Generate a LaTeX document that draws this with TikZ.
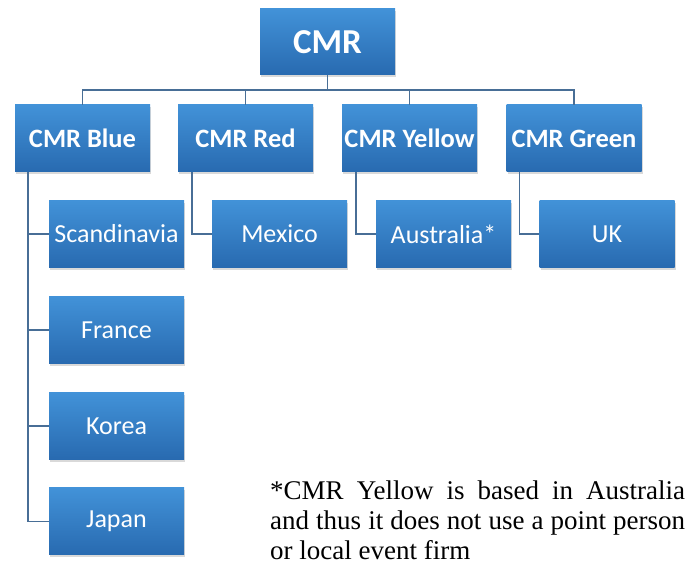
\documentclass[tikz,border=0pt]{standalone}
\usepackage{fontspec}
\setmainfont{Liberation Serif}
\setsansfont{Carlito}
\usepackage{tikz}
\usetikzlibrary{shapes,positioning,calc,shadows}
\definecolor{boxtop}{RGB}{66,146,216}
\definecolor{boxbot}{RGB}{40,106,176}
\definecolor{linecol}{RGB}{72,110,150}

\begin{document}
\begin{tikzpicture}[
    x=1pt, y=1pt,
    unitbox/.style={rectangle, top color=boxtop, bottom color=boxbot, text=white, font=\sffamily\fontsize{26}{30}\selectfont, minimum width=135pt, minimum height=67pt, inner sep=1pt, drop shadow={opacity=0.3, shadow xshift=1pt, shadow yshift=-2.5pt}},
    teambox/.style={unitbox, font=\sffamily\bfseries\fontsize{26.5}{30}\selectfont},
    topbox/.style={unitbox, font=\sffamily\bfseries\fontsize{35}{38}\selectfont, minimum height=66pt},
    conn/.style={draw=linecol, line width=1.5pt}
]
\useasboundingbox (0,0) rectangle (688,562);

% Head office
\node[topbox] (cmr) at (327.5,520) {CMR};

% Teams
\node[teambox] (blue) at (82.5,423.5) {CMR Blue};
\node[teambox] (red) at (245.5,423.5) {CMR Red};
\node[teambox] (yellow) at (409.5,423.5) {CMR Yellow};
\node[teambox] (green) at (574,423.5) {CMR Green};

% Countries
\node[unitbox] (scand) at (116.5,328) {Scandinavia};
\node[unitbox] (france) at (116.5,232) {France};
\node[unitbox] (korea) at (116.5,136) {Korea};
\node[unitbox] (japan) at (116.5,40.5) {Japan};
\node[unitbox] (mexico) at (279.5,328) {Mexico};
\node[unitbox] (austr) at (443.5,328) {Australia*};
\node[unitbox] (uk) at (607,328) {UK};

% Head office to teams
\foreach \t in {blue,red,yellow,green}
    \draw[conn] (cmr.south) -- ++(0,-15) -| (\t.north);

% Teams to countries
\foreach \c in {scand,france,korea,japan}
    \draw[conn] ($(blue.south west)+(13,0)$) |- (\c.west);
\draw[conn] ($(red.south west)+(14,0)$) |- (mexico.west);
\draw[conn] ($(yellow.south west)+(14,0)$) |- (austr.west);
\draw[conn] ($(green.south west)+(13,0)$) |- (uk.west);

% Note
\node[anchor=north west, inner sep=0pt, text width=415pt, align=justify, font=\fontsize{27}{30}\selectfont] (note) at (270,81) {*CMR Yellow is based in Australia\linebreak and thus it does not use a point person or local event firm};

\end{tikzpicture}
\end{document}
